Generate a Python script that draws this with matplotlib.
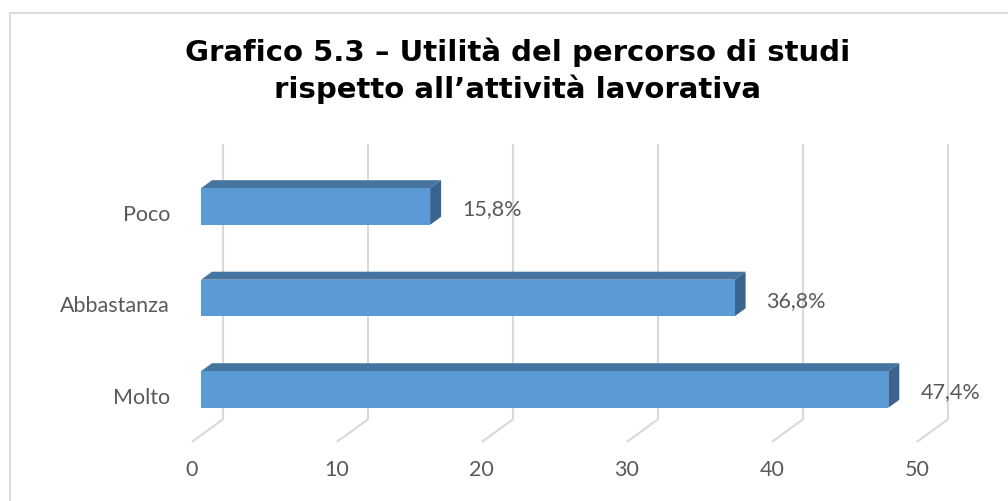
import matplotlib
matplotlib.use("Agg")
import matplotlib.pyplot as plt
from matplotlib.patches import Polygon, Rectangle

# dati del grafico
categorie = ["Molto", "Abbastanza", "Poco"]
valori = [47.4, 36.8, 15.8]
etichette = ["47,4%", "36,8%", "15,8%"]
tick_x = [0, 10, 20, 30, 40, 50]
titolo = "Grafico 5.3 \u2013 Utilit\u00e0 del percorso di studi\nrispetto all\u2019attivit\u00e0 lavorativa"

W, H = 1008, 502
fig = plt.figure(figsize=(W / 100, H / 100), dpi=100)

# area del grafico (piano frontale delle barre)
left, right = 201, 926
top, bottom = 161.75, 436.25
ax = fig.add_axes([left / W, 1 - bottom / H, (right - left) / W, (bottom - top) / H])
ax.set_xlim(0, 50)
ax.set_ylim(-0.5, 2.5)
ax.axis("off")

# profondita' 3D in unita' dati (circa 11 px a destra, 8 px in alto)
DX = 11 / ((right - left) / 50)
DY = 8 / ((bottom - top) / 3)

def prof(k):
    return k * DX, k * DY

h = 0.40
grigio = "#D9D9D9"
col_front = "#5B9BD5"
col_top = "#4674A0"
col_side = "#3A648E"
testo = "#595959"
fs = 15.5

# griglia: parete di fondo + pavimento in prospettiva
wx, wy = prof(2.04)
fx, fy = prof(-0.84)
for v in tick_x:
    ax.plot([v + wx, v + wx], [-0.5 + wy, 2.5 + wy], color=grigio, lw=1.5,
            zorder=1, clip_on=False, solid_capstyle="butt")
    ax.plot([v + wx, v + fx], [-0.5 + wy, -0.5 + fy], color=grigio, lw=1.5,
            zorder=1, clip_on=False, solid_capstyle="butt")
    ax.annotate(str(v), (v + fx, -0.5 + fy), xytext=(0, -27), textcoords="offset pixels",
                ha="center", va="center", fontsize=fs, color=testo,
                family="Lato", annotation_clip=False)

# barre 3D
bx, by = prof(1)
for i, (cat, v, lab) in enumerate(zip(categorie, valori, etichette)):
    y0, y1 = i - h / 2, i + h / 2
    ax.add_patch(Polygon([(0, y1), (v, y1), (v + bx, y1 + by), (bx, y1 + by)],
                         closed=True, fc=col_top, ec="none", zorder=3, clip_on=False))
    ax.add_patch(Polygon([(v, y0), (v + bx, y0 + by), (v + bx, y1 + by), (v, y1)],
                         closed=True, fc=col_side, ec="none", zorder=3, clip_on=False))
    ax.add_patch(Rectangle((0, y0), v, h, fc=col_front, ec="none", zorder=4, clip_on=False))
    ax.annotate(lab, (v, i), xytext=(32, -2), textcoords="offset pixels",
                ha="left", va="center", fontsize=fs, color=testo,
                family="Lato", annotation_clip=False)
    ax.annotate(cat, (0, i), xytext=(-31, -7), textcoords="offset pixels",
                ha="right", va="center", fontsize=fs, color=testo,
                family="Lato", annotation_clip=False)

# titolo
fig.text(518 / W, 1 - 71 / H, titolo, ha="center", va="center", fontsize=21,
         fontweight="bold", family="DejaVu Sans", linespacing=1.3)

# cornice del grafico
fig.add_artist(Rectangle((10 / W, -0.1), 1.2, 1 - 14 / H + 0.1, transform=fig.transFigure,
                         fill=False, ec=grigio, lw=1.3))

fig.savefig("out.png", dpi=100)
